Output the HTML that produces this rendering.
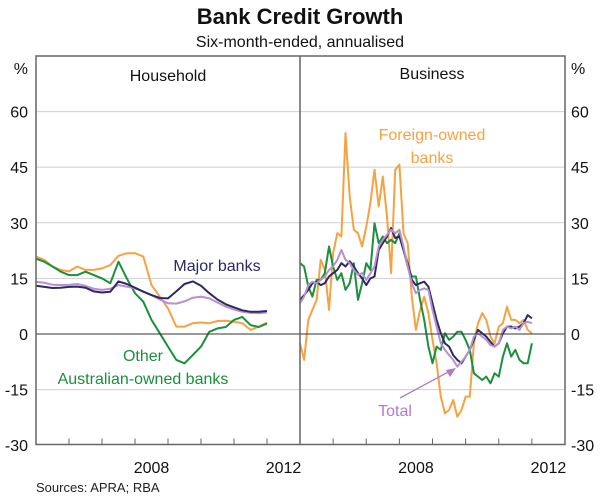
<!DOCTYPE html>
<html><head><meta charset="utf-8"><style>
body{margin:0;background:#fff;}
svg{display:block;font-family:"Liberation Sans",sans-serif;}
</style></head><body>
<svg id="chart" width="600" height="500" viewBox="0 0 600 500" xmlns="http://www.w3.org/2000/svg">
<text x="300" y="24" text-anchor="middle" font-size="22" font-weight="bold" fill="#111">Bank Credit Growth</text>
<text x="300" y="47" text-anchor="middle" font-size="16" fill="#111">Six-month-ended, annualised</text>
<g id="grid"></g>
<g id="series"></g>
<g id="frame"></g>
<g id="labels"></g>
<text x="168" y="81" text-anchor="middle" font-size="16" fill="#111">Household</text>
<text x="432" y="79" text-anchor="middle" font-size="16" fill="#111">Business</text>
<text x="217" y="271" text-anchor="middle" font-size="16" fill="#2b2a63">Major banks</text>
<text x="143" y="361" text-anchor="middle" font-size="16" fill="#1a8f3c">Other</text>
<text x="143" y="384" text-anchor="middle" font-size="16" fill="#1a8f3c">Australian-owned banks</text>
<text x="432" y="140" text-anchor="middle" font-size="16" fill="#f7a241">Foreign-owned</text>
<text x="432" y="163" text-anchor="middle" font-size="16" fill="#f7a241">banks</text>
<text x="395" y="416" text-anchor="middle" font-size="16" fill="#b07cc6">Total</text>
<line x1="400" y1="398" x2="452" y2="370" stroke="#b07cc6" stroke-width="1.3"/>
<polygon points="456,368 446,370 450,377" fill="#b07cc6"/>
<text x="36" y="492" font-size="13" fill="#222">Sources: APRA; RBA</text>
</svg>
<script>
const yTicks=[60,45,30,15,0,-15,-30];
const xTickLabels=["2008","2012"];
const xLabelYears=[2008.5,2012.5];
const leftDates=[];for(let i=0;i<29;i++)leftDates.push(2005+i*0.25);
const rightDates=[];for(let i=0;i<57;i++)rightDates.push(2005+i*0.125);
const hhMajor=[13,12.7,12.4,12.5,12.7,12.8,12.5,11.5,11.2,11.4,14.2,13.5,12.5,11.4,10.5,9.7,9.6,11.5,13.5,14.2,13,11,9.3,8,7.2,6.4,6,6,6.2];
const hhTotal=[14.1,13.8,13.3,13.2,13.3,13.5,13,12.2,11.9,12.2,13.2,12.8,12.3,11.5,10.5,9.3,8.3,8.2,8.8,9.8,10.1,9.6,8.5,7.4,6.6,6,5.7,5.6,5.8];
const hhForeign=[20.9,20,18.2,17.3,16.9,18.2,17.3,17.3,17.7,18.6,21.1,21.8,21.8,20.9,13.2,10.1,6.9,2,2,2.9,3.1,2.9,3.5,3.6,3.3,2.9,1.1,2,3.1];
const hhOther=[20.3,19.5,18.2,16.8,15.9,15.9,16.8,15.9,15,13.7,19.5,15,11,8.7,3.8,0.2,-3.4,-7,-7.9,-5.7,-3.4,0.6,1.5,1.9,3.8,4.6,2.4,1.9,2.8];
const bzForeign=[-2.5,-7,3.8,6.5,9.2,20,17.3,6.5,21.8,27.2,26.3,54.2,37.1,28.1,27.2,23.6,29,35.3,44.3,34.4,42.5,31.7,16.4,44.3,45.7,27.2,24.5,10.1,1.1,6.5,10.1,5.6,-1.6,-7.9,-16.9,-21.4,-20.5,-17.8,-22.3,-20.5,-16.9,-16.9,-2.5,2.9,5.6,3.8,-0.7,-2.5,2,2.9,7.4,3.8,3.8,2.9,3.8,1.1,0.2];
const bzOther=[19.1,18.2,12.8,10.1,14.6,14.6,16.4,23.6,18.2,14.6,16.4,11.9,13.7,19.1,9.2,13.7,19.1,17.3,29.9,24.5,26.3,24.5,25.4,24.5,27.2,22.7,18.2,15.5,15.5,9.2,3.8,-3.4,-7.9,-3.4,-4.3,0.2,-1.6,-0.7,0.6,0.6,-1.6,-4.3,-10.6,-11.5,-12.4,-11.5,-13.3,-10.6,-11.5,-6.1,-2.5,-6.1,-4.3,-7,-7.9,-7.9,-2.5];
const bzMajor=[9.2,10.5,11.9,13.7,14.1,13.2,13.7,15.5,16.4,17.3,19.1,18.2,19.6,18.2,16.4,15,13.2,15,15.5,22.7,24.5,26.3,28.6,25.9,26.3,22.7,19.1,14.6,13.2,13.7,14.1,12.8,8.3,3.8,0.2,-2.5,-3.4,-5.7,-7,-7.9,-6.1,-4.3,-1.6,1.1,0.2,-0.7,-2.1,-3.4,-2.5,0.2,2,2,1.5,2,2.9,5.1,4.2];
const bzTotal=[8.3,10.1,13.2,14.1,13.7,14.6,15.5,17.3,18.2,20,22.7,20,19.1,17.3,16,16.4,14.6,16.4,18.2,23.6,25.4,26.8,28.1,27.2,28.1,23.6,18.2,13.7,11,11.9,12.3,11.9,6.5,2,-2.5,-4.3,-5.7,-7,-8.8,-7.5,-6.1,-4.3,-0.7,0.2,-0.7,-1.6,-3,-3.4,-2.5,1.1,2,1.5,2,1.1,2.9,3.3,2.9];

const NS="http://www.w3.org/2000/svg";
const T=56,B=444.5,L=36,M=300,R=565;
const y=v=>334-v*3.707;
const xL=t=>L+(t-2005)*(M-L)/8;
const xR=t=>M+(t-2005)*(R-M)/8;
function mk(tag,attrs,parent){const e=document.createElementNS(NS,tag);for(const k in attrs)e.setAttribute(k,attrs[k]);document.getElementById(parent).appendChild(e);return e;}
yTicks.forEach(v=>{
  if(v!==0&&v!==-30){const g=mk('line',{x1:L,x2:R,y1:y(v),y2:y(v),stroke:'#cfcfcf','stroke-width':1},'grid');
  
  }
  const a=mk('text',{x:28,y:y(v)+6,'text-anchor':'end','font-size':16,fill:'#111'},'labels');a.textContent=v;
  
  
  const b=mk('text',{x:571,y:y(v)+6,'font-size':16,fill:'#111'},'labels');b.textContent=v;
  
  
});
const pl=mk('text',{x:28,y:74,'text-anchor':'end','font-size':16,fill:'#111'},'labels');pl.textContent='%';


const pr=mk('text',{x:571,y:74,'font-size':16,fill:'#111'},'labels');pr.textContent='%';


function series(dates,vals,xf,color,name){
  const d=dates.map((t,i)=>(i?'L':'M')+xf(t).toFixed(1)+','+y(vals[i]).toFixed(1)).join('');
  const p=mk('path',{d:d,fill:'none',stroke:color,'stroke-width':2,'stroke-linejoin':'round'},'series');
  
  
}
series(leftDates,hhForeign,xL,'#f7a241','household-foreign-line');
series(leftDates,hhOther,xL,'#1a8f3c','household-other-line');
series(leftDates,hhTotal,xL,'#b98fd0','household-total-line');
series(leftDates,hhMajor,xL,'#2b2a63','household-major-line');
series(rightDates,bzForeign,xR,'#f7a241','business-foreign-line');
series(rightDates,bzOther,xR,'#1a8f3c','business-other-line');
series(rightDates,bzMajor,xR,'#2b2a63','business-major-line');
series(rightDates,bzTotal,xR,'#b98fd0','business-total-line');
const z=mk('line',{x1:L,x2:R,y1:y(0),y2:y(0),stroke:'#333','stroke-width':1},'frame');


const fr=mk('rect',{x:L,y:T,width:R-L,height:B-T,fill:'none',stroke:'#666','stroke-width':1.5},'frame');


const dv=mk('line',{x1:M,x2:M,y1:T,y2:B,stroke:'#666','stroke-width':1.5},'frame');


for(let yr=2006;yr<=2012;yr++){[xL,xR].forEach(f=>{
  const t=mk('line',{x1:f(yr),x2:f(yr),y1:B,y2:B-6,stroke:'#666','stroke-width':1},'frame');
  
  
});}
xTickLabels.forEach((lab,i)=>{[xL,xR].forEach(f=>{
  const t=mk('text',{x:f(xLabelYears[i]),y:473,'text-anchor':'middle','font-size':16,fill:'#111'},'labels');t.textContent=lab;
  
  
});});
</script>
</body></html>
